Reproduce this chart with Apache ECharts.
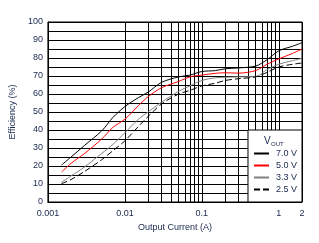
<!DOCTYPE html>
<html>
<head>
<meta charset="utf-8">
<script src="https://cdn.jsdelivr.net/npm/echarts@6/dist/echarts.min.js"></script>
<style>
  html, body { margin: 0; padding: 0; background: #fff; }
  #main { width: 319px; height: 243px; }
</style>
</head>
<body>
<div id="main"></div>
<script>
// load current (A)
const current = [0.0015, 0.002, 0.003, 0.005, 0.007, 0.01, 0.015, 0.02, 0.03, 0.05, 0.07, 0.1, 0.15, 0.2, 0.3, 0.5, 0.7, 1, 1.5, 2];
// efficiency (%) per output voltage
const eff70 = [20.5, 25, 31.5, 39.5, 47, 53, 58, 61, 66.5, 69.5, 70.5, 72.5, 73, 74, 74.5, 75.5, 79, 84, 86.5, 88.5];
const eff50 = [16.6, 21.5, 27, 35, 41.5, 46, 53.5, 58.5, 63.5, 67, 69.5, 70.5, 71.5, 71.8, 71.6, 73, 76.5, 79.5, 82.5, 85];
const eff33 = [11, 14.5, 19.5, 27, 32, 38.5, 46, 50, 55.5, 61.5, 64.5, 67.5, 69, 69.3, 69.5, 69.7, 73.5, 76.5, 78.5, 79.8];
const eff25 = [10.2, 12.5, 17, 23.5, 28.5, 34, 42, 47.5, 54.5, 60, 62, 64.5, 66, 67.5, 68.5, 69.5, 72, 75, 76.5, 77.2];
const seriesNames = ['7.0 V', '5.0 V', '3.3 V', '2.5 V'];

const txt = '#1a2850';
const font = 'Liberation Sans, Arial, sans-serif';

// minor log grid lines (2..9 of each decade)
const minorX = [];
[0.001, 0.01, 0.1].forEach(d => { for (let k = 2; k <= 9; k++) minorX.push(+(d * k).toPrecision(3)); });

function pairs(ys) { return current.map((x, i) => [x, ys[i]]); }

const myChart = echarts.init(document.getElementById('main'));
const option = {
  animation: false,
  grid: { left: 47, right: 17, top: 22, bottom: 41, show: true, borderColor: '#000', borderWidth: 1 },
  xAxis: {
    type: 'log', logBase: 10, min: 0.001, max: 2,
    name: 'Output Current (A)', nameLocation: 'middle', nameGap: 20,
    nameTextStyle: { color: txt, fontSize: 9, fontFamily: font },
    axisLine: { lineStyle: { color: '#000', width: 1 } },
    axisTick: { show: false },
    axisLabel: { color: txt, fontSize: 9, fontFamily: font, margin: 7,
      formatter: v => String(+(+v).toPrecision(3)) },
    splitLine: { show: true, lineStyle: { color: '#000', width: 1 } }
  },
  yAxis: {
    type: 'value', min: 0, max: 100, interval: 10,
    name: 'Efficiency (%)', nameLocation: 'middle', nameGap: 22,
    nameTextStyle: { color: txt, fontSize: 9, fontFamily: font },
    axisLine: { show: true, lineStyle: { color: '#000', width: 1 } },
    axisTick: { show: false },
    axisLabel: { color: txt, fontSize: 9, fontFamily: font, margin: 5 },
    splitLine: { show: true, lineStyle: { color: '#000', width: 1 } },
    minorTick: { show: false, splitNumber: 2 },
    minorSplitLine: { show: true, lineStyle: { color: '#000', width: 1 } }
  },
  legend: {
    data: seriesNames, z: 10,
    orient: 'vertical', right: 17, bottom: 41,
    backgroundColor: '#fff', borderColor: '#000', borderWidth: 1, borderRadius: 0,
    padding: [19, 5, 8, 5],
    itemWidth: 15, itemHeight: 9, itemGap: 3,
    itemStyle: { opacity: 0, color: 'rgba(0,0,0,0)', borderWidth: 0 },
    textStyle: { color: txt, fontSize: 9, fontFamily: font, padding: [0, 0, 0, 2] }
  },
  graphic: [
    { type: 'text', left: 264, top: 136, z: 20,
      style: { text: 'V', fontSize: 10, fill: txt, fontFamily: font } },
    { type: 'text', left: 271, top: 141, z: 20,
      style: { text: 'OUT', fontSize: 6, fill: txt, fontFamily: font } }
  ],
  series: [
    {
      name: 'grid', type: 'line', data: [], silent: true, z: 1,
      markLine: {
        silent: true, symbol: 'none', label: { show: false }, z: 1,
        lineStyle: { color: '#000', width: 1, type: 'solid' },
        data: minorX.map(x => ({ xAxis: x }))
      }
    },
    { name: seriesNames[0], type: 'line', data: pairs(eff70), symbol: 'none', smooth: 0.3,
      lineStyle: { color: '#000', width: 1 }, itemStyle: { color: '#000' } },
    { name: seriesNames[1], type: 'line', data: pairs(eff50), symbol: 'none', smooth: 0.3,
      lineStyle: { color: '#ff0000', width: 1 }, itemStyle: { color: '#ff0000' } },
    { name: seriesNames[2], type: 'line', data: pairs(eff33), symbol: 'none', smooth: 0.3,
      lineStyle: { color: '#808080', width: 1 }, itemStyle: { color: '#808080' } },
    { name: seriesNames[3], type: 'line', data: pairs(eff25), symbol: 'none', smooth: 0.3,
      lineStyle: { color: '#000', width: 1, type: [6, 3] }, itemStyle: { color: '#000' } }
  ]
};
myChart.setOption(option);
</script>
</body>
</html>
